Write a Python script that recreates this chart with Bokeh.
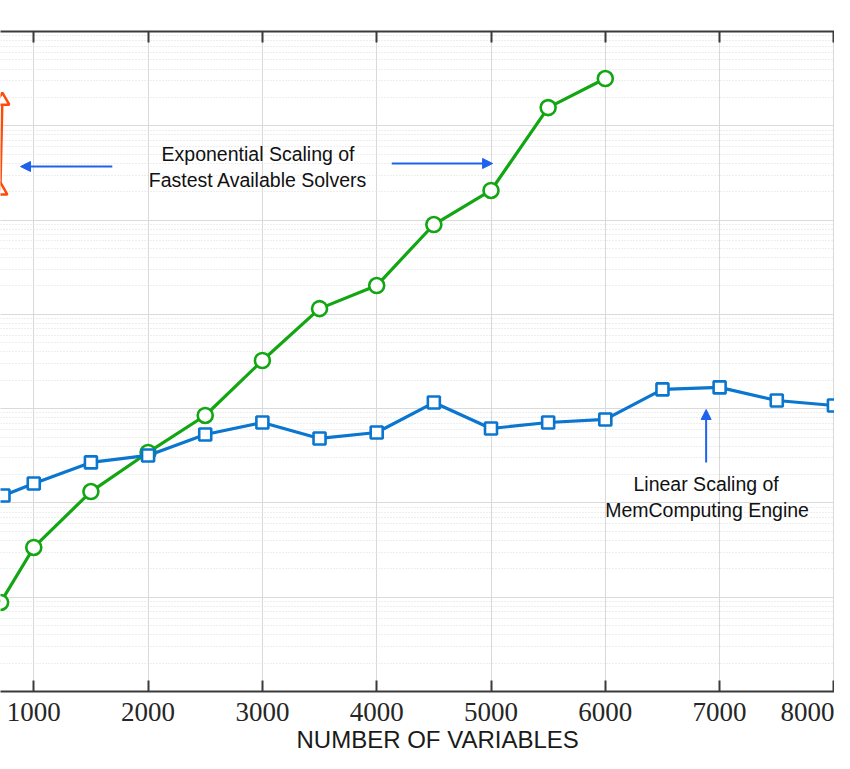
from bokeh.plotting import figure
from bokeh.models import (Range1d, LinearAxis, LogTicker, FixedTicker, Label,
                          Arrow, NormalHead, ColumnDataSource, Title)
from bokeh.embed import file_html
from bokeh.resources import INLINE

# ---------------- data ----------------
x_ticks = [1000, 2000, 3000, 4000, 5000, 6000, 7000, 8000]

solver_x = [710, 1000, 1500, 2000, 2500, 3000, 3500, 4000, 4500, 5000, 5500, 6000]
solver_y = [0.88, 3.37, 13.2, 34.3, 84.6, 324, 1150, 2020, 8970, 20600, 156000, 317000]

mem_x = [735, 1000, 1500, 2000, 2500, 3000, 3500, 4000, 4500, 5000, 5500, 6000,
         6500, 7000, 7500, 8000, 8500]
mem_y = [12.0, 16.1, 26.9, 31.9, 53.2, 71.3, 48.3, 55.8, 116, 61.6, 71.3, 76.8,
         160, 168, 122, 108, 254]

other_x = [725, 708]
other_y = [185000, 20600]

x_title = "NUMBER OF VARIABLES"

GREEN = "#12a612"
BLUE = "#0a76cf"
ORANGE = "#ff4a0a"
ARROW = "#1f62ee"
AXIS = "#3a3a3a"

p = figure(width=834, height=753, output_backend="svg", toolbar_location=None,
           x_range=Range1d(709, 8005), y_range=Range1d(0.1, 1e6),
           y_axis_type="log", y_axis_location=None)
p.min_border_left = 0
p.min_border_right = 0
p.min_border_top = 31
p.min_border_bottom = 62
p.outline_line_color = None
p.background_fill_color = "white"

# grids
p.xgrid.ticker = FixedTicker(ticks=x_ticks)
p.xgrid.grid_line_color = "#d9d9d9"
p.xgrid.grid_line_width = 1
p.ygrid.ticker = LogTicker(desired_num_ticks=8, num_minor_ticks=10)
p.ygrid.grid_line_color = "#dadada"
p.ygrid.grid_line_width = 1
p.ygrid.minor_grid_line_color = "#dcdcdc"
p.ygrid.minor_grid_line_dash = "1 2"
p.ygrid.minor_grid_line_width = 1

# bottom axis
ax = p.xaxis[0]
ax.ticker = FixedTicker(ticks=x_ticks)
ax.axis_line_color = AXIS
ax.axis_line_width = 2
ax.major_tick_line_color = AXIS
ax.major_tick_line_width = 2
ax.major_tick_in = 11
ax.major_tick_out = 0
ax.minor_tick_line_color = None
ax.major_label_text_font = "Liberation Serif"
ax.major_label_text_font_size = "27px"
ax.major_label_text_color = "#262626"
ax.major_label_standoff = 11

# top axis (line + inward ticks only)
top = LinearAxis(ticker=FixedTicker(ticks=x_ticks))
top.axis_line_color = AXIS
top.axis_line_width = 2
top.major_tick_line_color = AXIS
top.major_tick_line_width = 2
top.major_tick_in = 11
top.major_tick_out = 0
top.minor_tick_line_color = None
top.major_label_text_font_size = "1px"
top.major_label_text_alpha = 0
top.major_label_standoff = 0
p.add_layout(top, "above")

# x-axis title, placed as in the picture (slightly right of centre)
p.add_layout(Title(text=x_title, align="left", offset=296, standoff=0,
                   text_font="Liberation Sans", text_font_size="24px",
                   text_font_style="normal", text_color="#1a1a1a"), "below")

# series
src_s = ColumnDataSource(dict(x=solver_x, y=solver_y))
src_m = ColumnDataSource(dict(x=mem_x, y=mem_y))
src_o = ColumnDataSource(dict(x=other_x, y=other_y))

p.line("x", "y", source=src_o, line_color=ORANGE, line_width=2.5)
p.scatter("x", "y", source=src_o, marker="triangle", size=14, line_color=ORANGE,
          line_width=2.5, fill_color="white")

p.line("x", "y", source=src_s, line_color=GREEN, line_width=3.2)
p.scatter("x", "y", source=src_s, marker="circle", size=15, line_color=GREEN,
          line_width=2.6, fill_color="white")

p.line("x", "y", source=src_m, line_color=BLUE, line_width=3.2)
p.scatter("x", "y", source=src_m, marker="square", size=12, line_color=BLUE,
          line_width=2.6, fill_color="white")

# annotations
FONT = "Liberation Sans"
for txt, xx, yy in [("Exponential Scaling of", 2962, 10 ** 4.706),
                    ("Fastest Available Solvers", 2962, 10 ** 4.420),
                    ("Linear Scaling of", 6882, 10 ** 1.206),
                    ("MemComputing Engine", 6890, 10 ** 0.920)]:
    p.add_layout(Label(x=xx, y=yy, text=txt, text_align="center",
                       text_baseline="middle", text_font=FONT,
                       text_font_size="19.5px", text_color="#111111"))

for xs, ys, xe, ye in [(1687, 36980, 884, 36980),
                       (4132, 39800, 5014, 39800),
                       (6882, 26.9, 6882, 97.9)]:
    p.add_layout(Arrow(end=NormalHead(size=10, fill_color=ARROW, line_color=ARROW),
                       x_start=xs, y_start=ys, x_end=xe, y_end=ye,
                       line_color=ARROW, line_width=2))

open("out.html", "w").write(file_html(p, INLINE))
